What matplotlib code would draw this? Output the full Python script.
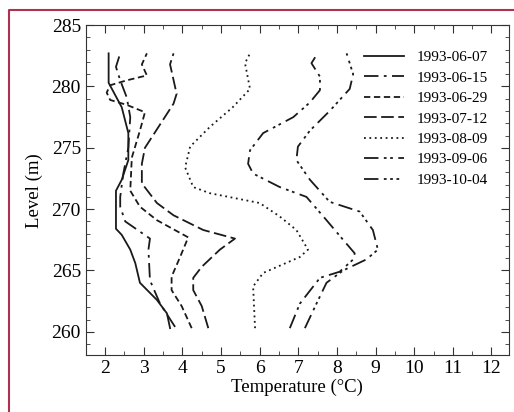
import numpy as np
import matplotlib.pyplot as plt
from matplotlib.lines import Line2D
from matplotlib.ticker import MultipleLocator

plt.rcParams['font.family'] = ['Liberation Serif', 'DejaVu Serif']

# profile 1993-06-07
lev_0607 = [260.3, 261.5, 262.6, 264.0, 265.6, 266.7, 267.9, 268.4, 271.5, 272.4, 274.0, 276.2, 278.3, 280.3, 282.7]
t_0607 = [3.68, 3.60, 3.34, 2.90, 2.78, 2.65, 2.43, 2.28, 2.28, 2.43, 2.60, 2.60, 2.43, 2.09, 2.09]

# profile 1993-06-15
lev_0615 = [260.4, 262.3, 264.2, 266.7, 267.6, 269.0, 270.2, 271.0, 272.9, 275.0, 277.5, 279.1, 280.5, 281.6, 282.7]
t_0615 = [3.81, 3.42, 3.16, 3.12, 3.16, 2.52, 2.39, 2.39, 2.47, 2.60, 2.65, 2.56, 2.39, 2.28, 2.39]

# profile 1993-06-29
lev_0629 = [260.3, 262.1, 263.4, 264.5, 266.1, 267.7, 269.1, 270.2, 271.5, 274.2, 276.4, 277.9, 278.5, 278.9, 279.5, 280.1, 280.5, 280.9, 281.8, 282.7]
t_0629 = [4.24, 3.98, 3.72, 3.72, 3.94, 4.15, 3.34, 2.90, 2.65, 2.69, 2.90, 3.03, 2.56, 2.13, 2.04, 2.13, 2.56, 3.08, 2.95, 3.08]

# profile 1993-07-12
lev_0712 = [260.3, 262.1, 263.4, 264.4, 265.3, 266.7, 267.6, 268.3, 269.5, 270.5, 272.1, 273.7, 275.0, 276.7, 278.6, 279.4, 281.8, 282.7]
t_0712 = [4.67, 4.50, 4.28, 4.28, 4.50, 4.97, 5.36, 4.54, 3.77, 3.34, 2.95, 2.95, 3.03, 3.38, 3.77, 3.85, 3.68, 3.77]

# profile 1993-08-09
lev_0809 = [260.3, 263.7, 264.8, 266.1, 266.7, 268.3, 269.4, 270.5, 271.3, 271.8, 273.4, 275.1, 276.7, 278.3, 279.8, 281.9, 282.7]
t_0809 = [5.88, 5.83, 6.09, 7.04, 7.25, 6.95, 6.52, 6.00, 4.71, 4.28, 4.07, 4.20, 4.71, 5.30, 5.75, 5.62, 5.75]

# profile 1993-09-06
lev_0906 = [260.3, 262.3, 264.4, 264.9, 265.9, 266.4, 267.5, 269.1, 271.0, 271.8, 272.9, 273.7, 274.8, 276.2, 277.5, 278.7, 279.7, 280.8, 281.9, 282.7]
t_0906 = [6.78, 7.04, 7.56, 8.07, 8.42, 8.46, 8.16, 7.73, 7.21, 6.52, 5.83, 5.70, 5.75, 6.09, 6.87, 7.30, 7.56, 7.56, 7.34, 7.50]

# profile 1993-10-04
lev_1004 = [260.3, 262.3, 264.0, 265.0, 265.9, 266.7, 268.3, 269.8, 270.6, 272.4, 274.0, 275.1, 276.4, 278.0, 279.8, 281.0, 282.7]
t_1004 = [7.17, 7.47, 7.73, 8.16, 8.76, 9.06, 8.93, 8.59, 7.81, 7.30, 6.95, 6.99, 7.30, 7.81, 8.33, 8.42, 8.25]

labels = ['1993-06-07', '1993-06-15', '1993-06-29', '1993-07-12',
          '1993-08-09', '1993-09-06', '1993-10-04']
temps = [t_0607, t_0615, t_0629, t_0712, t_0809, t_0906, t_1004]
levels = [lev_0607, lev_0615, lev_0629, lev_0712, lev_0809, lev_0906, lev_1004]
styles = ['-',
          (0, (8, 3, 1.5, 3)),
          (0, (3.5, 2)),
          (0, (7, 2.5)),
          (0, (1, 2)),
          (0, (8, 3, 1.5, 2, 1.5, 3)),
          (0, (8, 3, 1.5, 2, 1.5, 2, 1.5, 3))]

fig = plt.figure(figsize=(5.14, 4.12), dpi=100)
ax = fig.add_axes([0.167, 0.138, 0.823, 0.801])

for t, lv, ls, lab in zip(temps, levels, styles, labels):
    ax.plot(t, lv, color='#1a1a1a', linestyle=ls, linewidth=1.3, label=lab)

ax.set_xlim(1.5, 12.45)
ax.set_ylim(258.1, 285)
ax.xaxis.set_major_locator(MultipleLocator(1))
ax.xaxis.set_minor_locator(MultipleLocator(0.5))
ax.yaxis.set_major_locator(MultipleLocator(5))
ax.yaxis.set_minor_locator(MultipleLocator(1))
ax.tick_params(which='both', direction='in', top=True, right=True, labelsize=14, color='#333')
ax.tick_params(which='major', length=6)
ax.tick_params(which='minor', length=3)
ax.set_xlabel('Temperature (°C)', fontsize=13.5, labelpad=1)
ax.set_ylabel('Level (m)', fontsize=13.5, labelpad=6)
for s in ax.spines.values():
    s.set_color('#333')

ax.legend(loc='upper right', frameon=False, fontsize=11, handlelength=2.6,
          labelspacing=0.44, handletextpad=0.8,
          bbox_to_anchor=(0.975, 0.955), borderaxespad=0.3)

# reddish frame around the figure
fig.add_artist(Line2D([9 / 514, 9 / 514, 1.0], [0.0, 1 - 10 / 412, 1 - 10 / 412],
                      transform=fig.transFigure, color='#b03050', linewidth=1.5))

fig.savefig('out.png', dpi=100)
